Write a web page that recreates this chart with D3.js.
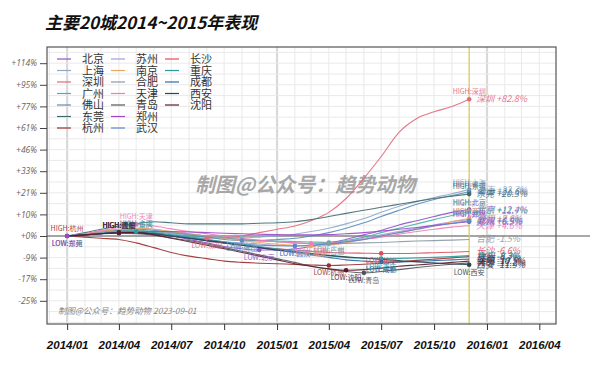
<!DOCTYPE html>
<html><head><meta charset="utf-8">
<script src="https://cdn.jsdelivr.net/npm/d3@7"></script>
<style>
html,body{margin:0;padding:0;background:#fff;}
svg{display:block;font-family:"Noto Sans CJK SC","Noto Sans",sans-serif;}
</style></head>
<body><svg id="chart" width="600" height="367"></svg>
<script>
// ---- data ----
const months = ["2014-01","2014-02","2014-03","2014-04","2014-05","2014-06","2014-07","2014-08","2014-09","2014-10","2014-11","2014-12",
                "2015-01","2015-02","2015-03","2015-04","2015-05","2015-06","2015-07","2015-08","2015-09","2015-10","2015-11","2015-12"];
const cities = ["北京","上海","深圳","广州","佛山","东莞","杭州","苏州","南京","合肥","天津","青岛","郑州","武汉","长沙","重庆","成都","西安","沈阳"];
const colors = ["#8e52c8","#8ea8c8","#e06a7c","#48b4a4","#5a8cb8","#3e6a70","#9a2e2e","#a898e0","#f0a462","#8a98a6","#f07cb6","#50545c","#9a48c8","#5a88cc","#e04a5c","#2a9a9a","#2a68a6","#2a4450","#5a1a2c"];
// percent change vs 2014-01
const beijing   = [0,1,2,2.5,2,1,0,-1.5,-3,-4.5,-5.5,-6, -6,-5.5,-4.5,-3,-1.5,0.5,2.5,5,7,9,11,12.4];
const shanghai  = [0,1,2,3,3.5,3,2,1,0,-0.5,-0.8,-0.5, 0,0.8,2,3.5,5.5,8,11,14,16.5,18.5,20.5,22.7];
const shenzhen  = [0,0.8,1.5,1.8,1.5,0.8,0,-0.6,-1,-0.8,0,1.5, 3,4.5,7,11,18,29,42,58,68,73,77,82.8];
const guangzhou = [0,1,2,2.5,2.5,2,1,0,-0.5,-1,-1.5,-2, -2.2,-2.4,-2.6,-2.8,-2,-0.5,1.5,3.5,5.5,7.5,9.5,11.7];
const foshan    = [0,0.8,1.8,2.5,3,2.5,1.5,0.5,-0.5,-1.5,-2,-2, -1.5,-1,0,1.5,3.5,6,9,12,15,17.5,19.5,21.6];
const dongguan  = [0,1.5,3,4.5,5.5,6.5,6,5.5,5.5,5.5,5.5,5.8, 6,6.5,7.5,9,10.5,12,13.5,15,16.5,18,19.2,20.3];
const hangzhou  = [0,-0.5,-1,-1.5,-3,-5,-7,-8.5,-9.5,-10.5,-11,-11.3, -11.5,-11.8,-12,-12.2,-12,-11.7,-11.3,-10.8,-10.2,-9.7,-9.2,-8.7];
const suzhou    = [0,0.8,1.5,2,2,1.5,0.5,-0.5,-1.5,-2.5,-3,-3.5, -4,-4.2,-4,-3.5,-2.5,-1,0.5,2,3.5,5,6.5,7.6];
const nanjing   = [0,1,2,3,3.5,3,2,1,0,-1,-2,-2.8, -3.5,-4,-4.3,-4,-3,-1.5,0,1.5,3,4.5,6.5,8.0];
const hefei     = [0,0.8,1.5,2,2.2,2,1.5,0.8,0,-0.8,-1.5,-2, -2.5,-3,-3.2,-3.3,-3.2,-3,-2.8,-2.5,-2.2,-2,-1.8,-1.5];
const tianjin   = [0,1,2.5,3.8,5.3,4.5,3.2,2,1,0,-1,-1.8, -2.5,-3,-3.3,-3,-2.5,-1.5,-0.5,0.8,2,3,4,4.6];
const qingdao   = [0,0.5,1,1.2,1,0.3,-0.8,-2,-3.5,-5,-6.5,-8, -9.5,-11,-12.5,-13.5,-14.5,-15,-14.5,-13.8,-13,-12.3,-11.7,-11.2];
const zhengzhou = [0,0.5,1,1.5,2,2,2,1.8,1.5,1.2,1,0.8, 0.6,0.5,0.5,0.6,1,1.5,2.2,3,3.8,4.8,5.7,6.5];
const wuhan     = [0,0.5,1,1.5,1.5,1,0,-1,-2,-3,-3.5,-4, -4.2,-4.3,-4,-3.5,-2.5,-1.5,0,1.5,3,4.5,5.8,6.9];
const changsha  = [0,0.5,1,1.5,1.5,1,0,-1,-2,-3,-4,-5, -5.5,-6,-6.5,-7,-7.2,-7.3,-7.4,-7.4,-7.3,-7.1,-6.9,-6.6];
const chongqing = [0,0.5,1.2,1.8,2,1.5,0.5,-0.5,-1.5,-2.5,-3.5,-4.5, -5.5,-6.5,-7.5,-8.3,-9,-9.3,-9.5,-9.4,-9.2,-9,-8.7,-8.3];
const chengdu   = [0,0.5,1,1.5,1.5,1,0,-1,-2,-3,-4,-5, -6,-7,-8,-9,-10,-10.5,-10.8,-10.8,-10.6,-10.3,-10,-9.7];
const xian      = [0,0.5,1,1.5,1.5,1,0,-1,-2,-3,-4,-5, -6,-6.8,-7.5,-8.2,-8.8,-9.3,-9.8,-10.3,-10.8,-11.2,-11.6,-11.9];
const shenyang  = [0,0.5,1,1.5,1.5,0.5,-1,-2.5,-4,-5.5,-7,-8.5, -10,-11.5,-12.5,-13.5,-14,-13.8,-13.2,-12.5,-12,-11.5,-11,-10.5];
const yTickSteps = [-3,-2,-1,0,1,2,3,4,5,6,7,8];   // ticks at 1.1^k
const title = "主要20城2014~2015年表现";
const watermark = "制图@公众号：趋势动物";
const note = "制图@公众号：趋势动物 2023-09-01";

const seriesValues = [beijing,shanghai,shenzhen,guangzhou,foshan,dongguan,hangzhou,suzhou,nanjing,hefei,tianjin,qingdao,zhengzhou,wuhan,changsha,chongqing,chengdu,xian,shenyang];

// ---- build ----
const parse = d3.timeParse("%Y-%m");
const dates = months.map(parse);
const series = cities.map((c,i)=>({name:c,color:colors[i],
  pts:seriesValues[i].map((v,j)=>({date:dates[j],v:v,r:1+v/100}))}));

const svg = d3.select("#chart");
const L=47,R=556,T=47,B=324;
const x = d3.scaleTime().domain([new Date(2013,10,27),new Date(2016,3,30)]).range([L,R]);
const y = d3.scaleLog().domain([Math.pow(1.1,-4.074),Math.pow(1.1,8.75)]).range([B,T]);

// grid
const g = svg.append("g");
const allMonths = d3.timeMonth.range(new Date(2013,11,1), new Date(2016,4,1));
g.selectAll("line.vg").data(allMonths).join("line")
  .attr("x1",d=>x(d)).attr("x2",d=>x(d)).attr("y1",T).attr("y2",B)
  .attr("stroke",d=>d.getMonth()===0?"#d9d9d9":"#e9e9e9")
  .attr("stroke-width",d=>d.getMonth()===0?2.2:1);
const hk = d3.range(-4,9,0.5).filter(k=>y(Math.pow(1.1,k))>T && y(Math.pow(1.1,k))<B);
g.selectAll("line.hg").data(hk).join("line")
  .attr("x1",L).attr("x2",R).attr("y1",d=>y(Math.pow(1.1,d))).attr("y2",d=>y(Math.pow(1.1,d)))
  .attr("stroke","#e9e9e9").attr("stroke-width",1);

// zero line and end marker
svg.append("line").attr("x1",L).attr("x2",590).attr("y1",y(1)).attr("y2",y(1))
  .attr("stroke","#555").attr("stroke-width",1);
const lastDate = dates[dates.length-1];
svg.append("line").attr("x1",x(lastDate)).attr("x2",x(lastDate)).attr("y1",T).attr("y2",B)
  .attr("stroke","#d9cc55").attr("stroke-width",1.2);

// frame
svg.append("rect").attr("x",L).attr("y",T).attr("width",R-L).attr("height",B-T)
  .attr("fill","none").attr("stroke","#555").attr("stroke-width",1.2);

// axes
const xAxis = d3.axisBottom(x).tickValues(d3.timeMonth.every(3).range(new Date(2014,0,1),new Date(2016,4,2)))
  .tickFormat(d3.timeFormat("%Y/%m")).tickSize(6).tickSizeOuter(0);
const xa = svg.append("g").attr("transform",`translate(0,${B})`).call(xAxis);
xa.select(".domain").remove();
xa.selectAll("line").attr("stroke","#333");
xa.selectAll("text").attr("dy","1.35em").attr("font-size","11.5px").attr("font-weight","bold")
  .attr("font-style","italic").attr("fill","#111");

const yAxis = d3.axisLeft(y).tickValues(yTickSteps.map(k=>Math.pow(1.1,k)))
  .tickFormat(v=>{const p=Math.round((v-1)*100);return (p>=0?"+":"")+p+"%";}).tickSize(7).tickSizeOuter(0);
const ya = svg.append("g").attr("transform",`translate(${L},0)`).call(yAxis);
ya.select(".domain").remove();
ya.selectAll("line").attr("stroke","#444");
ya.selectAll("text").attr("font-size","8.5px").attr("font-style","italic").attr("fill","#666")
  .attr("font-family","'Open Sans','DejaVu Sans',sans-serif");

// watermark & note
svg.append("text").attr("x",195).attr("y",192).text(watermark)
  .attr("font-size","20px").attr("font-weight","bold").attr("font-style","italic")
  .attr("fill","#9a9a9a").attr("opacity",0.85);
svg.append("text").attr("x",58).attr("y",314).text(note)
  .attr("font-size","8.5px").attr("font-style","italic").attr("fill","#888");

// lines
const line = d3.line().x(d=>x(d.date)).y(d=>y(d.r)).curve(d3.curveMonotoneX);
svg.append("g").selectAll("path").data(series).join("path")
  .attr("d",d=>line(d.pts)).attr("fill","none").attr("stroke",d=>d.color)
  .attr("stroke-width",1.1).attr("opacity",0.9);

// high / low markers
const marks = [];
series.forEach(s=>{
  const hi = s.pts.reduce((a,b)=>b.v>a.v?b:a);
  const lo = s.pts.reduce((a,b)=>b.v<a.v?b:a);
  marks.push({s,p:hi,type:"HIGH"});
  marks.push({s,p:lo,type:"LOW"});
});
const mg = svg.append("g");
mg.selectAll("circle").data(marks).join("circle")
  .attr("cx",d=>x(d.p.date)).attr("cy",d=>y(d.p.r)).attr("r",2.3).attr("fill",d=>d.s.color);
mg.selectAll("text").data(marks).join("text")
  .attr("x",d=>x(d.p.date)).attr("y",d=>y(d.p.r)+(d.type==="HIGH"?-5:10))
  .attr("text-anchor","middle").attr("font-size","7px").attr("fill",d=>d.s.color).attr("opacity",0.9)
  .text(d=>d.type+":"+d.s.name);

// end labels
svg.append("g").selectAll("text").data(series).join("text")
  .attr("x",x(lastDate)+7).attr("y",d=>y(d.pts[d.pts.length-1].r)+3)
  .attr("font-size","9px").attr("font-style","italic").attr("fill",d=>d.color).attr("opacity",0.9)
  .text(d=>{const v=d.pts[d.pts.length-1].v;return d.name+" "+(v>=0?"+":"")+v.toFixed(1)+"%";});

// legend
const lg = svg.append("g");
series.forEach((s,i)=>{
  const col=Math.floor(i/7), row=i%7;
  const lx=[57,111,165][col], ly=59+row*11.5;
  lg.append("line").attr("x1",lx).attr("x2",lx+14).attr("y1",ly).attr("y2",ly)
    .attr("stroke",s.color).attr("stroke-width",1.2);
  lg.append("text").attr("x",lx+25).attr("y",ly+4).text(s.name)
    .attr("font-size","11px").attr("fill","#333");
});

// title
svg.append("text").attr("x",45).attr("y",29).text(title)
  .attr("font-size","17px").attr("font-weight","bold").attr("font-style","italic").attr("fill","#111");
</script></body></html>
